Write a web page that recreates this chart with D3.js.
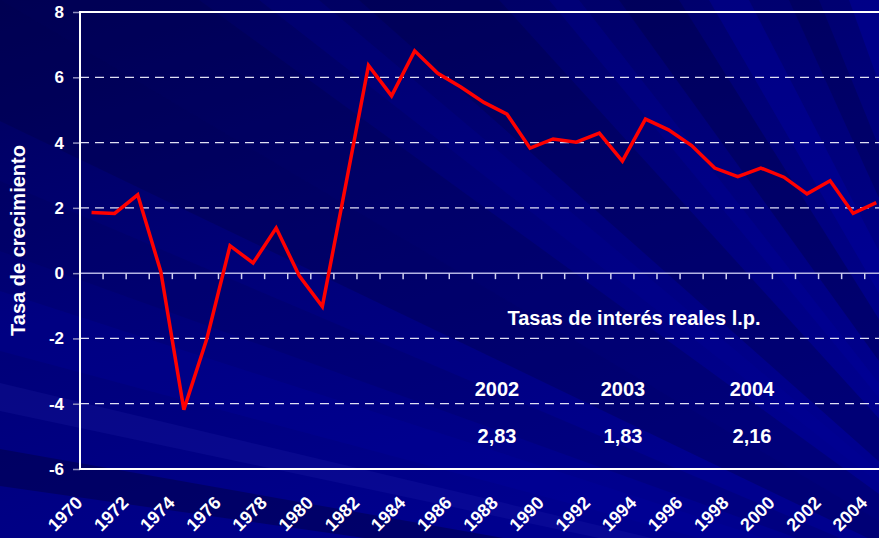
<!DOCTYPE html>
<html>
<head>
<meta charset="utf-8">
<script src="https://cdn.jsdelivr.net/npm/d3@7"></script>
<style>
  html, body { margin: 0; padding: 0; background: #00007a; }
  svg { display: block; }
  text { font-family: "Liberation Sans", Arial, sans-serif; font-weight: bold; fill: #ffffff; }
</style>
</head>
<body>
<div id="chart"></div>
<script>
// datos
var years = [1970, 1971, 1972, 1973, 1974, 1975, 1976, 1977, 1978, 1979,
             1980, 1981, 1982, 1983, 1984, 1985, 1986, 1987, 1988, 1989,
             1990, 1991, 1992, 1993, 1994, 1995, 1996, 1997, 1998, 1999,
             2000, 2001, 2002, 2003, 2004];
var growth = [1.86, 1.83, 2.40, 0.05, -4.18, -2.00, 0.84, 0.31, 1.38, -0.08,
              -1.02, 2.65, 6.36, 5.43, 6.81, 6.12, 5.70, 5.23, 4.87, 3.83,
              4.11, 4.01, 4.29, 3.43, 4.72, 4.39, 3.91, 3.22, 2.96, 3.22,
              2.94, 2.43, 2.83, 1.83, 2.16];
var yTicks = [-6, -4, -2, 0, 2, 4, 6, 8];
var gridValues = [-4, -2, 2, 4, 6];
var labelYears = [1970, 1972, 1974, 1976, 1978, 1980, 1982, 1984, 1986, 1988,
                  1990, 1992, 1994, 1996, 1998, 2000, 2002, 2004];
var rateTitle = "Tasas de interés reales l.p.";
var rateYears = ["2002", "2003", "2004"];
var rateValues = ["2,83", "1,83", "2,16"];

var W = 879, H = 538;

var svg = d3.select("#chart").append("svg").attr("width", W).attr("height", H);

//-------------------------------- fondo
var defs = svg.append("defs");
var grad = defs.append("linearGradient").attr("id", "bg")
  .attr("x1", "0").attr("y1", "0").attr("x2", "0.5").attr("y2", "1");
grad.append("stop").attr("offset", "0").attr("stop-color", "#00005a");
grad.append("stop").attr("offset", "0.5").attr("stop-color", "#000078");
grad.append("stop").attr("offset", "1").attr("stop-color", "#00008e");

svg.append("rect").attr("width", W).attr("height", H).attr("fill", "url(#bg)");

// rayos diagonales desde un foco abajo a la derecha
var focus = [1080, 640];
function perim(t) {
  if (t <= W) return [W - t, 0];
  return [0, t - W];
}
var rays = [
  [0, 30, "#0000b0", 0.35], [60, 90, "#000040", 0.3], [130, 170, "#0000b0", 0.3],
  [200, 260, "#000040", 0.35], [300, 330, "#0000b0", 0.2], [380, 520, "#000040", 0.3],
  [560, 620, "#0000a0", 0.2], [680, 879, "#000040", 0.25], [879, 1000, "#000040", 0.3],
  [1060, 1130, "#000050", 0.2], [1170, 1230, "#0000a8", 0.2], [1262, 1290, "#4040d0", 0.12],
  [1328, 1365, "#000040", 0.45]
];
svg.append("g").selectAll("polygon").data(rays).enter().append("polygon")
  .attr("points", function (d) {
    return [focus, perim(d[0]), perim(d[1])].map(function (p) { return p.join(","); }).join(" ");
  })
  .attr("fill", function (d) { return d[2]; })
  .attr("opacity", function (d) { return d[3]; });

//-------------------------------- escalas
var x = d3.scaleBand().domain(years).range([80, 80 + years.length * 23.08]);
var y = d3.scaleLinear().domain([-6, 8]).range([469, 12]);
var xLeft = x.range()[0], xRight = x.range()[1];

// lineas de grilla
svg.append("g").selectAll("line").data(gridValues).enter().append("line")
  .attr("x1", xLeft).attr("x2", xRight)
  .attr("y1", function (d) { return y(d); })
  .attr("y2", function (d) { return y(d); })
  .attr("stroke", "#e0e0f4").attr("stroke-width", 1.2)
  .attr("stroke-dasharray", "9,6");

// eje y
var yAxis = d3.axisLeft(y).tickValues(yTicks).tickSize(7).tickPadding(9)
  .tickFormat(function (d) { return String(d); });
var gy = svg.append("g").attr("transform", "translate(" + xLeft + ",0)").call(yAxis);
gy.select(".domain").remove();
gy.selectAll(".tick line").attr("stroke", "#9090c0").attr("stroke-width", 1.5);
gy.selectAll(".tick text").attr("fill", "#ffffff").attr("font-size", 17)
  .attr("font-family", "Liberation Sans, Arial, sans-serif").attr("font-weight", "bold");

// linea del cero con marcas
svg.append("line").attr("x1", xLeft).attr("x2", xRight)
  .attr("y1", y(0)).attr("y2", y(0))
  .attr("stroke", "#b4b4e4").attr("stroke-width", 1.5);
svg.append("g").selectAll("line").data(years.slice(1)).enter().append("line")
  .attr("x1", function (d) { return x(d); })
  .attr("x2", function (d) { return x(d); })
  .attr("y1", y(0)).attr("y2", y(0) + 6)
  .attr("stroke", "#d0d0f0").attr("stroke-width", 1.5);

// marco
svg.append("path")
  .attr("d", "M" + xRight + "," + y(8) + "H" + xLeft + "V" + y(-6) + "H" + xRight)
  .attr("fill", "none").attr("stroke", "#ffffff").attr("stroke-width", 2);

// etiquetas de años
svg.append("g").selectAll("text").data(labelYears).enter().append("text")
  .attr("transform", function (d) {
    return "translate(" + (x(d) + x.bandwidth() / 2 - 8) + ",504) rotate(-45)";
  })
  .attr("text-anchor", "end")
  .attr("font-size", 18)
  .text(function (d) { return d; });

// titulo eje y
svg.append("text")
  .attr("transform", "translate(25," + ((y(8) + y(-6)) / 2) + ") rotate(-90)")
  .attr("text-anchor", "middle")
  .attr("font-size", 20)
  .text("Tasa de crecimiento");

// serie
var line = d3.line()
  .x(function (d, i) { return x(years[i]) + x.bandwidth() / 2; })
  .y(function (d) { return y(d); });
svg.append("path").datum(growth)
  .attr("d", line)
  .attr("fill", "none").attr("stroke", "#ff0000").attr("stroke-width", 3.5);

// recuadro de tasas
var rateX = [497, 623, 752];
svg.append("text").attr("x", 634).attr("y", 325).attr("text-anchor", "middle")
  .attr("font-size", 20).text(rateTitle);
svg.append("g").selectAll("text").data(rateYears).enter().append("text")
  .attr("x", function (d, i) { return rateX[i]; }).attr("y", 396)
  .attr("text-anchor", "middle").attr("font-size", 20)
  .text(function (d) { return d; });
svg.append("g").selectAll("text").data(rateValues).enter().append("text")
  .attr("x", function (d, i) { return rateX[i]; }).attr("y", 443)
  .attr("text-anchor", "middle").attr("font-size", 20)
  .text(function (d) { return d; });
</script>
</body>
</html>
